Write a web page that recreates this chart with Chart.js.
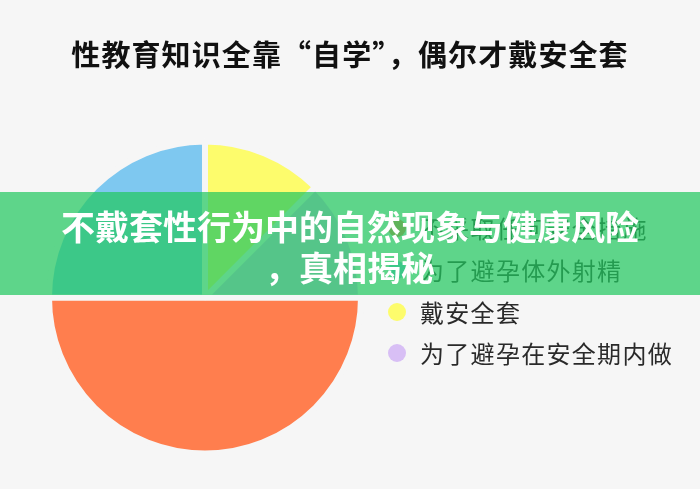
<!DOCTYPE html>
<html>
<head>
<meta charset="utf-8">
<script src="https://cdn.jsdelivr.net/npm/chart.js@4"></script>
<style>
  html, body { margin:0; padding:0; background:#f6f6f6; }
  #wrap { position:relative; width:700px; height:489px; overflow:hidden; background:#f6f6f6;
          font-family:"Noto Sans CJK SC","Noto Sans",sans-serif; }
  #c { position:absolute; left:0; top:0; }
  #title { position:absolute; left:0; top:31px; width:700px; text-align:center; font-size:29px;
           font-weight:bold; color:#111; line-height:44px; letter-spacing:1.1px; }
  #legend { position:absolute; left:388px; top:0; }
  .item { position:absolute; left:0; height:30px; white-space:nowrap; }
  .dot { position:absolute; left:0; width:18px; height:18px; border-radius:50%; }
  .lbl { position:absolute; left:32px; font-size:24px; color:#2a2a2a; line-height:30px; top:-15px; letter-spacing:1.3px; }
  #banner { position:absolute; left:0; top:192px; width:700px; height:103px; background:rgba(35,200,96,0.72); }
  .bl { position:absolute; left:0; width:700px; text-align:center; color:#fff; font-weight:bold;
        font-size:34px; line-height:40px; }
</style>
</head>
<body>
<div id="wrap">
  <canvas id="c" width="700" height="489"></canvas>
  <div id="title"></div>
  <div id="legend"></div>
  <div id="banner"><div class="bl" id="b1" style="top:14px"></div><div class="bl" id="b2" style="top:55px"></div></div>
</div>
<script>
const titleText = "性教育知识全靠“自学”，偶尔才戴安全套";
const categories = ["不采取任何安全措施", "为了避孕体外射精", "戴安全套", "为了避孕在安全期内做"];
const shares = [50, 25, 12.5, 12.5];
const colors = ["#ff7e4e", "#7ec8f0", "#fdfc6c", "#d8bff5"];
const bannerLines = ["不戴套性行为中的自然现象与健康风险", "，真相揭秘"];

document.getElementById('title').textContent = titleText;
document.getElementById('b1').textContent = bannerLines[0];
document.getElementById('b2').textContent = bannerLines[1];

const legend = document.getElementById('legend');
const legendY = [228, 270, 312, 353];
categories.forEach((name, i) => {
  const it = document.createElement('div');
  it.className = 'item';
  it.style.top = legendY[i] + 'px';
  const d = document.createElement('div');
  d.className = 'dot';
  d.style.background = colors[i];
  d.style.top = '-9px';
  const t = document.createElement('div');
  t.className = 'lbl';
  t.textContent = name;
  it.appendChild(d); it.appendChild(t);
  legend.appendChild(it);
});

new Chart(document.getElementById('c'), {
  type: 'pie',
  data: {
    labels: categories,
    datasets: [{
      data: shares,
      backgroundColor: colors,
      borderColor: '#f6f6f6',
      borderWidth: 6,
      hoverOffset: 0
    }]
  },
  options: {
    responsive: false,
    animation: false,
    rotation: 90,
    radius: 156,
    layout: { padding: { left: 45, right: 335, top: 138, bottom: 32 } },
    plugins: {
      legend: { display: false },
      tooltip: { enabled: false },
      title: { display: false }
    },
    events: []
  }
});
</script>
</body>
</html>
